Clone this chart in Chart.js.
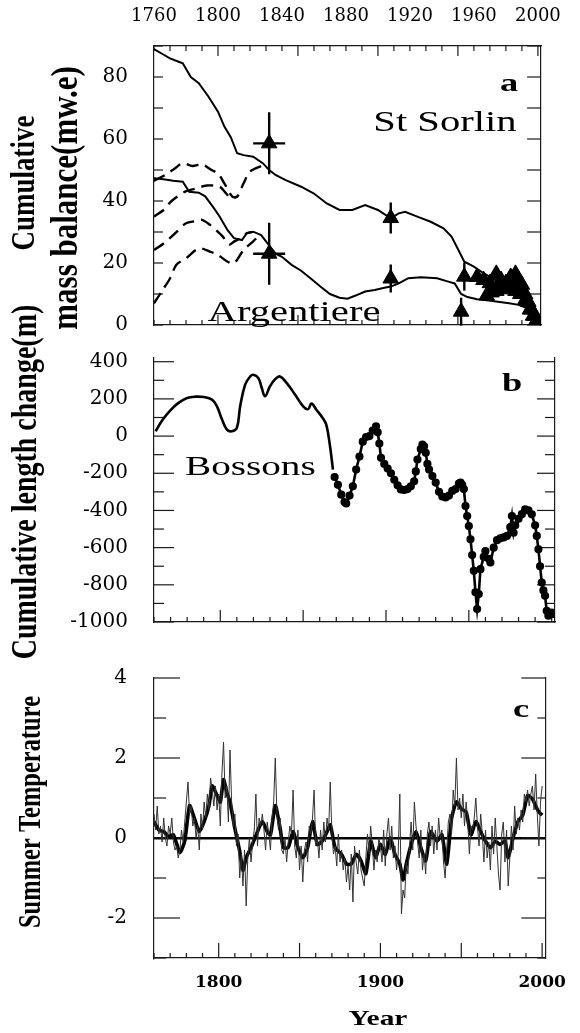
<!DOCTYPE html>
<html>
<head>
<meta charset="utf-8">
<script src="https://cdn.jsdelivr.net/npm/chart.js@4.4.0/dist/chart.umd.min.js"></script>
<style>
  body { margin: 0; background: #fff; }
  #wrap { position: relative; width: 580px; height: 1033px; }
  #wrap canvas { position: absolute; left: 0; top: 0; }
</style>
</head>
<body>
<div id="wrap">
  <canvas id="massChart" width="580" height="1033"></canvas>
  <canvas id="lengthChart" width="580" height="1033"></canvas>
  <canvas id="tempChart" width="580" height="1033"></canvas>
</div>
<script>
  // ---- shared year axis ----
  const yearMin = 1760;
  const yearMax = 2002;
  const topYearTicks = [1760, 1800, 1840, 1880, 1920, 1960, 2000];
  const bottomYearTicks = [1800, 1900, 2000];

  // ---- (a) cumulative mass balance, m w.e. ----
  const massTicks = [0, 20, 40, 60, 80];

  const sorlinYears = [1760, 1765, 1770, 1775, 1778, 1783, 1788, 1794, 1800, 1804, 1808, 1812, 1816, 1822, 1828, 1832, 1836, 1842, 1852, 1860, 1868, 1876, 1884, 1892, 1900, 1908, 1913, 1917, 1925, 1933, 1941, 1946, 1950, 1954, 1960, 1966, 1970, 1975, 1980, 1985, 1990, 1994, 1997, 2000];
  const sorlinMass = [89, 87.5, 86, 85, 84.4, 80, 78, 73.7, 68.8, 64, 60.6, 55.4, 54.8, 54.3, 52.2, 50, 48.4, 46.8, 44.6, 42.4, 39.2, 37.1, 37.1, 38.7, 37.1, 34.4, 36, 36.5, 34.9, 33.3, 31.2, 28.5, 24.5, 20.4, 18.8, 16.7, 15.5, 14, 13.4, 14.5, 13, 9, 5, 1];

  const argYears = [1760, 1766, 1772, 1778, 1782, 1788, 1792, 1797, 1801, 1806, 1810, 1815, 1818, 1822, 1827, 1831, 1836, 1840, 1846, 1852, 1858, 1864, 1870, 1876, 1881, 1886, 1892, 1898, 1904, 1908, 1913, 1919, 1927, 1937, 1944, 1948, 1952, 1956, 1962, 1968, 1975, 1982, 1988, 1993, 1997, 2000];
  const argMass = [47.3, 47, 46.5, 46.2, 43, 42.7, 41.5, 38, 35, 30.6, 28, 27.4, 29.6, 30.1, 29, 26.3, 23, 22, 19.4, 17.5, 15, 12.4, 10, 8.8, 8.5, 9.5, 10.8, 11.3, 12, 12.4, 13.4, 15.1, 15.4, 15.1, 14, 13.4, 10, 9, 8.3, 8, 7.5, 7, 6.5, 5.5, 3.5, 1.5];

  // alternative early reconstructions (dashed)
  const sorlinAltAYears = [1760, 1767, 1773, 1778, 1784, 1790, 1796, 1800, 1804, 1809, 1812, 1816, 1820, 1828];
  const sorlinAltA = [46.5, 48.4, 50.5, 52.2, 51.3, 51.8, 50, 48.9, 45.7, 41.4, 41.4, 45.7, 49.5, 51.5];
  const sorlinAltBYears = [1760, 1766, 1771, 1779, 1786, 1793, 1801, 1805, 1808, 1812];
  const sorlinAltB = [35, 37.1, 40, 42.9, 44, 45, 44.6, 42.5, 40.9, 41.4];
  const argAltAYears = [1760, 1766, 1773, 1780, 1786, 1790, 1795, 1799, 1803, 1807, 1810, 1814, 1818, 1821];
  const argAltA = [24.2, 26.3, 29.5, 32.8, 33.5, 33.9, 32.3, 30.5, 28.5, 26, 26.9, 28, 29.6, 30];
  const argAltBYears = [1760, 1765, 1770, 1774, 1780, 1788, 1795, 1800, 1806, 1810, 1816, 1822, 1826];
  const argAltB = [7, 11, 15, 19.4, 21.5, 24.7, 23.7, 22.6, 20.4, 19.9, 24.2, 27, 29];

  // measured points with uncertainty (triangles)
  const sorlinObsYears = [1832, 1908, 1954, 1962, 1966, 1970, 1974, 1977, 1980, 1983, 1986, 1988, 1990, 1992, 1994, 1996, 1998, 2000];
  const sorlinObs = [58.6, 34.5, 15.6, 15.5, 14.5, 13.5, 16.5, 14.5, 13.5, 15.5, 16.5, 14.5, 13, 10, 7.5, 5, 3, 1];
  const sorlinErrY = [10, 5, 4.5, 0, 0, 0, 0, 0, 0, 0, 0, 0, 0, 0, 0, 0, 0, 0];
  const sorlinErrX = [10, 3, 0, 0, 0, 0, 0, 0, 0, 0, 0, 0, 0, 0, 0, 0, 0, 0];
  const argObsYears = [1832, 1908, 1952, 1968, 1971, 1974, 1977, 1980, 1983, 1986, 1989, 1992, 1995, 1997, 1999];
  const argObs = [23, 15, 4.3, 9.5, 10.5, 11, 12, 11.5, 12, 11, 10, 8, 5, 3, 1.5];
  const argErrY = [10, 4.5, 4.5, 0, 0, 0, 0, 0, 0, 0, 0, 0, 0, 0, 0];
  const argErrX = [10, 3, 0, 0, 0, 0, 0, 0, 0, 0, 0, 0, 0, 0, 0];

  // ---- (b) Bossons cumulative length change, m ----
  const lengthTicks = [400, 200, 0, -200, -400, -600, -800, -1000];

  const bossonsEarlyYears = [1761, 1765, 1770, 1775, 1780, 1785, 1790, 1795, 1798, 1801, 1804, 1807, 1810, 1812, 1815, 1818, 1820, 1823, 1825, 1827, 1830, 1833, 1836, 1840, 1845, 1850, 1853, 1855, 1858, 1862, 1864, 1866, 1868];
  const bossonsEarly = [26, 85, 140, 180, 205, 212, 210, 196, 160, 90, 35, 26, 44, 160, 277, 320, 330, 312, 260, 214, 268, 305, 321, 286, 225, 160, 145, 175, 142, 95, 60, -40, -180];

  const bossonsObsYears = [1869, 1871, 1873, 1875, 1876, 1878, 1880, 1882, 1884, 1886, 1888, 1890, 1892, 1894, 1895, 1896, 1897, 1899, 1901, 1903, 1905, 1907, 1909, 1911, 1913, 1915, 1917, 1918, 1919, 1921, 1922, 1923, 1924, 1925, 1926, 1928, 1930, 1932, 1934, 1936, 1938, 1940, 1942, 1944, 1945, 1946, 1947, 1948, 1949, 1950, 1951, 1952, 1953, 1954, 1955, 1956, 1957, 1959, 1960, 1962, 1963, 1965, 1967, 1969, 1971, 1973, 1975, 1976, 1977, 1978, 1980, 1982, 1984, 1986, 1988, 1990, 1991, 1992, 1993, 1994, 1995, 1996, 1997, 1998, 1999, 2000, 2001];
  const bossonsObs = [-220, -262, -315, -355, -362, -320, -270, -180, -110, -30, -5, 0, 30, 53, 20, -40, -117, -150, -175, -200, -235, -265, -287, -290, -285, -270, -243, -190, -126, -70, -46, -55, -90, -150, -180, -215, -250, -300, -325, -330, -320, -295, -285, -255, -250, -262, -285, -376, -430, -484, -555, -640, -725, -840, -930, -850, -716, -650, -618, -660, -680, -600, -560, -550, -545, -537, -490, -430, -520, -480, -445, -420, -394, -400, -421, -480, -537, -609, -700, -788, -830, -859, -940, -966, -960, -950, -957];

  // ---- (c) summer temperature anomaly ----
  const tempTicks = [4, 2, 0, -2];
  const tempStartYear = 1760;
  const summerTemp = [
    0.6, 0.2, 0.8, 0.1, 0.3, -0.1, 0.5, 0.0, -0.2, 0.3,
    0.1, 0.5, -0.1, -0.3, -0.2, -0.5, -0.3, 0.2, -0.1, 0.4,
    0.9, 1.4, 0.6, 0.8, 0.3, 0.5, 0.0, 0.3, -0.3, 0.6,
    0.2, 0.9, 0.5, 1.1, 0.7, 1.5, 1.2, 0.8, 1.3, 0.7,
    1.1, 0.3, 1.6, 2.4, 1.0, 1.3, 0.4, 2.2, 0.9, 0.3,
    0.6, -0.2, 0.1, -1.0, -0.4, -1.2, -0.3, -1.7, -0.5, 0.0,
    -0.6, -0.1, 0.2, 1.1, -0.2, 0.5, 0.3, 0.6, 0.2, -0.3,
    0.4, 0.1, -0.3, 0.5, 0.9, 2.0, 0.6, 0.2, 0.5, -0.3,
    -0.4, 0.0, -0.6, -0.1, 0.3, 0.1, 1.2, -0.2, -0.5, 0.2,
    -0.8, -0.2, -1.1, -0.3, -0.1, -0.6, 0.3, 0.1, 0.5, 1.2,
    -0.2, 0.0, -0.5, 0.2, -0.3, 0.4, -0.1, 0.5, 0.2, 1.4,
    0.1, -0.4, -0.2, -0.7, 0.1, -0.6, -0.3, -0.8, -0.5, -1.1,
    -0.7, -1.3, -0.4, -1.6, -0.2, -0.6, -0.9, -0.3, -0.8, -1.0,
    -1.2, -0.5, 0.1, -0.4, 0.3, -0.2, -0.8, -0.3, -0.6, 0.0,
    -0.2, -0.6, 0.2, -0.7, 0.1, 0.5, -0.3, 0.3, -0.5, -0.2,
    -0.8, -0.4, 1.1, -1.9, -1.3, -1.5, -0.6, -0.9, -0.2, 0.4,
    -0.3, 0.9, 0.3, -0.1, -0.5, 0.2, -0.8, -0.4, -0.9, 0.1,
    0.4, -0.2, 0.3, -0.4, 0.2, -0.3, 0.5, 0.0, 0.2, -0.6,
    -1.0, -0.3, 0.4, 0.6, 0.1, 1.2, 0.8, 2.0, 0.7, 1.0,
    0.5, 1.1, 0.3, 0.9, 0.4, -0.4, 0.3, 0.2, 0.5, 1.0,
    0.3, -0.2, 0.6, 0.1, -0.6, 0.2, -0.5, -0.1, -0.8, 0.3,
    -0.4, 0.5, -0.2, -0.9, -1.3, 0.1, 0.4, -0.6, 0.2, -1.2,
    -0.5, 0.3, -0.3, 0.8, 0.1, 0.5, 0.2, 0.7, 0.4, 1.1,
    0.9, 1.2, 0.8, 1.1, 1.3, 0.7, 1.6, 0.6, -0.2, 0.9,
    1.3
  ];
  const smoothYears = [1760, 1763, 1766, 1769, 1772, 1776, 1779, 1782, 1785, 1788, 1791, 1794, 1796, 1799, 1801, 1803, 1805, 1807, 1810, 1813, 1815, 1817, 1820, 1824, 1827, 1830, 1832, 1835, 1838, 1840, 1843, 1846, 1849, 1852, 1855, 1858, 1861, 1864, 1867, 1869, 1872, 1876, 1879, 1882, 1885, 1888, 1891, 1894, 1897, 1900, 1903, 1906, 1909, 1912, 1914, 1916, 1919, 1922, 1925, 1928, 1931, 1935, 1938, 1941, 1944, 1947, 1950, 1953, 1956, 1959, 1962, 1965, 1968, 1971, 1974, 1977, 1979, 1982, 1985, 1988, 1991, 1994, 1996, 1998, 2000];
  const smoothTemp = [0.41, 0.2, 0.16, 0.04, 0.08, -0.36, -0.08, 0.81, 0.49, 0.16, 0.41, 0.81, 1.3, 1.06, 0.9, 1.46, 1.14, 0.9, 0.24, -0.33, -0.81, -0.49, -0.24, 0.16, 0.41, 0.16, 0.08, 0.81, 0.24, -0.24, -0.24, 0.16, -0.24, -0.49, -0.24, 0.41, -0.16, -0.08, 0.16, 0.33, -0.24, -0.41, -0.65, -0.65, -0.41, -0.57, -0.89, -0.08, -0.49, -0.16, -0.41, 0, -0.41, -0.65, -1.05, -0.65, -0.16, 0.16, -0.24, -0.57, 0.16, -0.08, 0.08, -0.65, 0.49, 0.9, 0.73, 0.65, 0.08, 0.41, 0.16, -0.08, -0.24, -0.08, -0.16, -0.08, -0.49, 0, 0.41, 0.57, 1.06, 0.98, 0.8, 0.65, 0.57];

  // ---------------------------------------------

  const pairs = (xs, ys) => xs.map((x, i) => ({ x: x, y: ys[i] }));

  const ink = '#000';
  const frameColor = '#1a1a1a';
  const tickFont = { family: 'DejaVu Serif', size: 20 };
  const plainNumber = v => String(v);

  // inward tick marks, error bars and the stretched figure lettering
  const figureDecor = {
    id: 'figureDecor',
    beforeDatasetsDraw(chart, args, opts) {
      const ctx = chart.ctx;
      const area = chart.chartArea;
      ctx.save();
      ctx.strokeStyle = frameColor;
      ctx.lineWidth = 1.2;
      (opts.marks || []).forEach(t => {
        const scale = chart.scales[t.scale];
        const first = Math.ceil(scale.min / t.step) * t.step;
        for (let v = first; v <= scale.max + 1e-9; v += t.step) {
          const len = Math.abs(v % t.major) < 1e-9 ? t.majorLen : t.len;
          const p = scale.getPixelForValue(v);
          ctx.beginPath();
          if (t.edge === 'left') { ctx.moveTo(area.left, p); ctx.lineTo(area.left + len, p); }
          if (t.edge === 'right') { ctx.moveTo(area.right, p); ctx.lineTo(area.right - len, p); }
          if (t.edge === 'top') { ctx.moveTo(p, area.top); ctx.lineTo(p, area.top + len); }
          if (t.edge === 'bottom') { ctx.moveTo(p, area.bottom); ctx.lineTo(p, area.bottom - len); }
          ctx.stroke();
        }
      });

      // error bars for datasets that carry errX / errY
      const xs = chart.scales.x;
      const ys = chart.scales.y;
      ctx.strokeStyle = ink;
      ctx.lineWidth = 2.4;
      chart.data.datasets.forEach(ds => {
        if (!ds.errY) return;
        ds.data.forEach((pt, j) => {
          const px = xs.getPixelForValue(pt.x);
          const py = ys.getPixelForValue(pt.y);
          ctx.beginPath();
          if (ds.errY[j]) {
            ctx.moveTo(px, ys.getPixelForValue(pt.y + ds.errY[j]));
            ctx.lineTo(px, ys.getPixelForValue(pt.y - ds.errY[j]));
          }
          if (ds.errX[j]) {
            ctx.moveTo(xs.getPixelForValue(pt.x - ds.errX[j]), py);
            ctx.lineTo(xs.getPixelForValue(pt.x + ds.errX[j]), py);
          }
          ctx.stroke();
        });
      });
      ctx.restore();
    },
    afterDraw(chart, args, opts) {
      const ctx = chart.ctx;
      (opts.texts || []).forEach(t => {
        ctx.save();
        ctx.fillStyle = ink;
        ctx.font = t.font;
        ctx.textAlign = t.align || 'center';
        ctx.textBaseline = t.baseline || 'middle';
        ctx.translate(t.x, t.y);
        if (t.rotate) {
          ctx.rotate(-Math.PI / 2);
          ctx.scale(1, t.stretch || 1.3);
        } else {
          ctx.scale(t.stretch || 1.4, 1);
        }
        ctx.fillText(t.text, 0, 0);
        ctx.restore();
      });
    }
  };

  function yAxis(min, max, ticks, width, pad) {
    return {
      type: 'linear', position: 'left', min: min, max: max,
      grid: { display: false, drawTicks: false },
      border: { display: true, color: frameColor, width: 1.2 },
      ticks: { font: tickFont, color: ink, padding: pad, callback: plainNumber },
      afterBuildTicks: s => { s.ticks = ticks.map(v => ({ value: v })); },
      afterFit: s => { s.width = width; }
    };
  }

  function sideAxis(min, max) {
    return {
      type: 'linear', position: 'right', min: min, max: max,
      grid: { display: false, drawTicks: false },
      border: { display: true, color: frameColor, width: 1.2 },
      ticks: { display: false },
      afterFit: s => { s.width = 25; }
    };
  }

  function yearAxis(height) {
    return {
      type: 'linear', position: 'bottom', min: yearMin, max: yearMax,
      grid: { display: false, drawTicks: false },
      border: { display: true, color: frameColor, width: 1.2 },
      ticks: { display: false },
      afterFit: s => { s.height = height; }
    };
  }

  const solid = (data) => ({ data, showLine: true, borderColor: ink, borderWidth: 2, pointRadius: 0, tension: 0 });
  const dashed = (data) => ({ data, showLine: true, borderColor: ink, borderWidth: 2.4, borderDash: [12, 7], pointRadius: 0, tension: 0.3 });
  const triangles = (data, errX, errY) => ({
    data, errX, errY, showLine: false, pointStyle: 'triangle', pointRadius: 9,
    backgroundColor: ink, borderColor: ink, borderWidth: 1
  });

  const baseOptions = {
    responsive: false,
    animation: false,
    devicePixelRatio: 1,
    events: [],
    plugins: { legend: { display: false }, tooltip: { enabled: false } }
  };

  //(a) mass balance
  const massChart = new Chart(document.getElementById('massChart'), {
    type: 'scatter',
    data: {
      datasets: [
        solid(pairs(sorlinYears, sorlinMass)),
        solid(pairs(argYears, argMass)),
        dashed(pairs(sorlinAltAYears, sorlinAltA)),
        dashed(pairs(sorlinAltBYears, sorlinAltB)),
        dashed(pairs(argAltAYears, argAltA)),
        dashed(pairs(argAltBYears, argAltB)),
        triangles(pairs(sorlinObsYears, sorlinObs), sorlinErrX, sorlinErrY),
        triangles(pairs(argObsYears, argObs), argErrX, argErrY)
      ]
    },
    plugins: [figureDecor],
    options: {
      ...baseOptions,
      layout: { padding: { top: 0, bottom: 708, left: 0, right: 0 } },
      scales: {
        x: yearAxis(0),
        x2: {
          type: 'linear', position: 'top', min: yearMin, max: yearMax,
          grid: { display: false, drawTicks: false },
          border: { display: true, color: frameColor, width: 1.2 },
          ticks: { font: { family: 'DejaVu Serif', size: 18 }, color: ink, padding: 19, maxRotation: 0, autoSkip: false, callback: plainNumber },
          afterBuildTicks: s => { s.ticks = topYearTicks.map(v => ({ value: v })); },
          afterFit: s => { s.height = 46; }
        },
        y: yAxis(0, 90, massTicks, 154, 26),
        y2: sideAxis(0, 90)
      },
      plugins: {
        ...baseOptions.plugins,
        figureDecor: {
          marks: [
            { scale: 'x', edge: 'bottom', step: 10, len: 5, major: 50, majorLen: 10 },
            { scale: 'x', edge: 'top', step: 10, len: 5, major: 50, majorLen: 10 },
            { scale: 'y', edge: 'left', step: 10, len: 9, major: 20, majorLen: 9 },
            { scale: 'y', edge: 'right', step: 10, len: 14, major: 20, majorLen: 14 }
          ],
          texts: [
            { text: 'a', x: 509, y: 84, font: 'bold 26px "Liberation Serif"' },
            { text: 'St Sorlin', x: 445, y: 131, baseline: 'alphabetic', font: '29px "Liberation Serif"' },
            { text: 'Argentiere', x: 294, y: 321, baseline: 'alphabetic', font: '29px "Liberation Serif"' },
            { text: 'Cumulative', x: 25, y: 183, rotate: true, stretch: 1.25, font: 'bold 27px "Liberation Serif"' },
            { text: 'mass balance(mw.e)', x: 67, y: 198, rotate: true, stretch: 1.25, font: 'bold 31px "Liberation Serif"' }
          ]
        }
      }
    }
  });

  //(b) Bossons length
  const lengthChart = new Chart(document.getElementById('lengthChart'), {
    type: 'scatter',
    data: {
      datasets: [
        { data: pairs(bossonsEarlyYears, bossonsEarly), showLine: true, borderColor: ink, borderWidth: 2.6, pointRadius: 0, tension: 0.4 },
        { data: pairs(bossonsObsYears, bossonsObs), showLine: true, borderColor: ink, borderWidth: 2.6, pointRadius: 2.8, pointStyle: 'circle', backgroundColor: ink, tension: 0 }
      ]
    },
    plugins: [figureDecor],
    options: {
      ...baseOptions,
      layout: { padding: { top: 358, bottom: 411, left: 0, right: 0 } },
      scales: {
        x: yearAxis(0),
        y: yAxis(-1000, 420, lengthTicks, 154, 26),
        y2: sideAxis(-1000, 420)
      },
      plugins: {
        ...baseOptions.plugins,
        figureDecor: {
          marks: [
            { scale: 'x', edge: 'bottom', step: 10, len: 5, major: 50, majorLen: 12 },
            { scale: 'y', edge: 'left', step: 100, len: 10, major: 200, majorLen: 20 },
            { scale: 'y', edge: 'right', step: 100, len: 10, major: 200, majorLen: 18 }
          ],
          texts: [
            { text: 'b', x: 512, y: 384, font: 'bold 26px "Liberation Serif"' },
            { text: 'Bossons', x: 185, y: 475, align: 'left', baseline: 'alphabetic', font: '28px "Liberation Serif"' },
            { text: 'Cumulative length change(m)', x: 27, y: 482, rotate: true, stretch: 1.25, font: 'bold 28px "Liberation Serif"' }
          ]
        }
      }
    }
  });

  //(c) summer temperature
  const tempChart = new Chart(document.getElementById('tempChart'), {
    type: 'scatter',
    data: {
      datasets: [
        { data: summerTemp.map((v, i) => ({ x: tempStartYear + i, y: v })), showLine: true, borderColor: '#333', borderWidth: 1, pointRadius: 0, tension: 0 },
        { data: pairs(smoothYears, smoothTemp), showLine: true, borderColor: ink, borderWidth: 3.6, pointRadius: 0, tension: 0.2 }
      ]
    },
    plugins: [figureDecor],
    options: {
      ...baseOptions,
      layout: { padding: { top: 678, bottom: 0, left: 0, right: 0 } },
      scales: {
        x: {
          type: 'linear', position: 'bottom', min: yearMin, max: yearMax,
          grid: { display: false, drawTicks: false },
          border: { display: true, color: frameColor, width: 1.2 },
          ticks: { font: { family: 'DejaVu Serif', size: 17, weight: 'bold' }, color: ink, padding: 14, maxRotation: 0, autoSkip: false, callback: plainNumber },
          afterBuildTicks: s => { s.ticks = bottomYearTicks.map(v => ({ value: v })); },
          afterFit: s => { s.height = 75; }
        },
        y: {
          ...yAxis(-3, 4, tempTicks, 154, 27),
          // zero reference line
          grid: {
            display: true, drawTicks: false, drawOnChartArea: true,
            color: c => (c.tick && c.tick.value === 0 ? ink : 'rgba(0,0,0,0)'),
            lineWidth: 2.6
          }
        },
        y2: sideAxis(-3, 4)
      },
      plugins: {
        ...baseOptions.plugins,
        figureDecor: {
          marks: [
            { scale: 'x', edge: 'bottom', step: 10, len: 5, major: 50, majorLen: 15 },
            { scale: 'y', edge: 'left', step: 1, len: 12, major: 2, majorLen: 26 },
            { scale: 'y', edge: 'right', step: 1, len: 8, major: 2, majorLen: 24 }
          ],
          texts: [
            { text: 'c', x: 521, y: 710, font: 'bold 26px "Liberation Serif"' },
            { text: 'Year', x: 378, y: 1020, font: 'bold 21px "Liberation Serif"' },
            { text: 'Summer Temperature', x: 32, y: 812, rotate: true, stretch: 1.25, font: 'bold 24.5px "Liberation Serif"' }
          ]
        }
      }
    }
  });
</script>
</body>
</html>
